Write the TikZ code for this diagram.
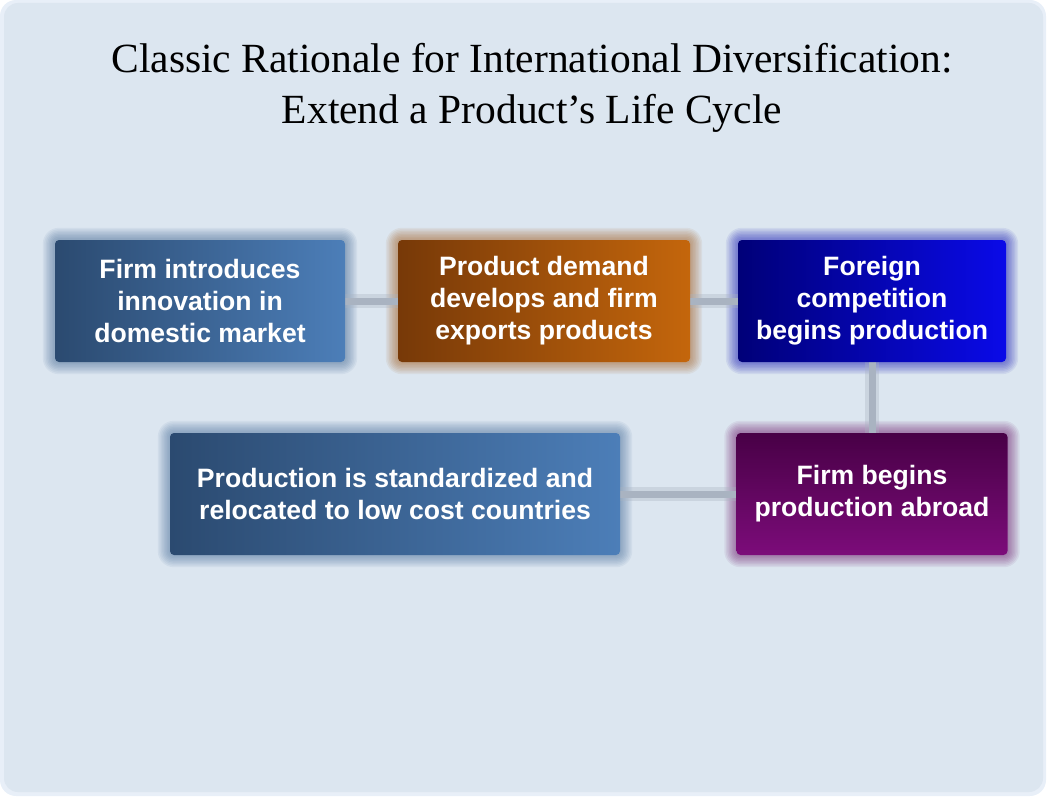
\documentclass[tikz,border=0pt]{standalone}
\usepackage{fontspec}
\setmainfont{Liberation Serif}
\newfontfamily\boxfont{Liberation Sans}
\pgfdeclarelayer{bglayer}
\pgfdeclarelayer{glowlayer}
\pgfsetlayers{bglayer,glowlayer,main}
\definecolor{bgfill}{HTML}{DCE6F0}
\definecolor{bgedge}{HTML}{E8EFF8}
\definecolor{connc}{HTML}{A9B3C1}
\definecolor{aL}{HTML}{2B4A70}
\definecolor{aR}{HTML}{4C7EB8}
\definecolor{oL}{HTML}{773908}
\definecolor{oR}{HTML}{C4660C}
\definecolor{nL}{HTML}{000078}
\definecolor{nR}{HTML}{0A0AE8}
\definecolor{pT}{HTML}{480046}
\definecolor{pB}{HTML}{7C0C7A}
\tikzset{
  boxnode/.style={rounded corners=4pt, minimum height=122pt, align=center,
    text=white, font=\boxfont\bfseries\fontsize{26.6}{32}\selectfont, inner sep=0pt},
  conn/.style={draw=connc, line width=7pt,
    preaction={draw=connc, line width=14pt, opacity=0.35}},
}
\newcommand\glowbox[2]{%
  \begin{pgfonlayer}{glowlayer}
  \foreach \g in {1.5,3,...,12}{%
    \fill[#2, opacity=0.07, rounded corners=\g pt+4pt]
      ([xshift=-\g pt,yshift=-\g pt]#1.south west) rectangle
      ([xshift=\g pt,yshift=\g pt]#1.north east);}
  \end{pgfonlayer}}
\begin{document}
\begin{tikzpicture}[x=1pt,y=-1pt]
\useasboundingbox (0,0) rectangle (1062,797);
\begin{pgfonlayer}{bglayer}
\fill[bgedge, rounded corners=16pt] (0,0) rectangle (1046,796);
\fill[bgfill, rounded corners=14pt] (4,3) rectangle (1043,792);
\end{pgfonlayer}

\node[font=\fontsize{41.5}{51}\selectfont, align=center] (title) at (532,88)
  {Classic Rationale for International Diversification:\\Extend a Product’s Life Cycle};

\node[boxnode, minimum width=290pt, left color=aL, right color=aR] (b1) at (200,301)
  {Firm introduces\\innovation in\\domestic market};
\node[boxnode, minimum width=292pt, left color=oL, right color=oR] (b2) at (544,301)
  {Product demand\\develops and firm\\exports products};
\node[boxnode, minimum width=268pt, left color=nL, right color=nR] (b3) at (872,301)
  {Foreign\\competition\\begins production};
\node[boxnode, minimum width=271pt, top color=pT, bottom color=pB] (b4) at (872,494)
  {Firm begins\\production abroad};
\node[boxnode, minimum width=450pt, left color=aL, right color=aR] (b5) at (395,494)
  {Production is standardized and\\relocated to low cost countries};

\glowbox{b1}{aL!60!aR}
\glowbox{b2}{oL!50!oR}
\glowbox{b3}{nL!50!nR}
\glowbox{b4}{pT!50!pB}
\glowbox{b5}{aL!50!aR}

\begin{pgfonlayer}{glowlayer}
\draw[conn] (b1) -- (b2);
\draw[conn] (b2) -- (b3);
\draw[conn] (b3) -- (b4);
\draw[conn] (b4) -- (b5);
\end{pgfonlayer}
\end{tikzpicture}
\end{document}
